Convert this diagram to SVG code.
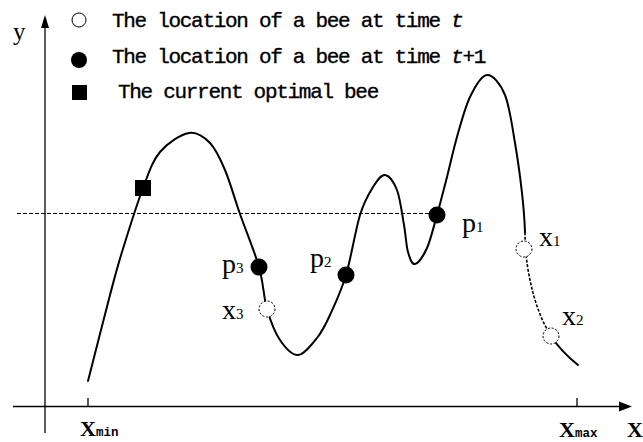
<svg xmlns="http://www.w3.org/2000/svg" width="643" height="442" viewBox="0 0 643 442">
<style>
.ax{stroke:#000;stroke-width:1.3;fill:none}
.crv{stroke:#000;stroke-width:2;fill:none;stroke-linecap:round}
.dcrv{stroke:#000;stroke-width:1.6;fill:none;stroke-dasharray:3 1.6}
.ref{stroke:#000;stroke-width:1;fill:none;stroke-dasharray:4 2}
.open{fill:#fff;stroke:#000;stroke-width:1;stroke-dasharray:2.2 1.6}
.fill{fill:#000}
.leg{font-family:"Liberation Mono",monospace;font-size:21px;letter-spacing:-1.3px;fill:#000;stroke:#000;stroke-width:0.35px}
.lbl{font-family:"Liberation Serif",serif;font-size:28px;fill:#000}
.sub{font-size:15px}
.axl{font-family:"Liberation Serif",serif;font-size:22px;font-weight:bold;fill:#000}
.axs{font-family:"Liberation Mono",monospace;font-size:12.5px;font-weight:bold}
</style>
<g id="axes">
<line class="ax" x1="45" y1="433" x2="45" y2="26"/>
<polygon points="45,15 41,28 49,28" fill="#000"/>
<line class="ax" x1="13" y1="406.5" x2="621" y2="406.5"/>
<polygon points="632,406.5 619,401.5 619,411.5" fill="#000"/>
<line class="ax" x1="88" y1="398" x2="88" y2="406.5"/>
<line class="ax" x1="577" y1="398" x2="577" y2="406.5"/>
<text x="13" y="40" style="font-family:'Liberation Serif',serif;font-size:25px;fill:#000">y</text>
<text class="axl" x="80" y="436">X<tspan class="axs">min</tspan></text>
<text class="axl" x="559" y="437">X<tspan class="axs">max</tspan></text>
<text class="axl" x="627" y="437">X</text>
</g>
<g id="legend">
<circle cx="79" cy="20" r="7" fill="#fff" stroke="#000" stroke-width="1"/>
<text class="leg" x="112" y="27">The location of a bee at time <tspan font-style="italic">t</tspan></text>
<circle cx="79" cy="60" r="8" class="fill"/>
<text class="leg" x="112" y="63">The location of a bee at time <tspan font-style="italic">t</tspan>+1</text>
<rect x="72" y="85" width="15" height="15" class="fill"/>
<text class="leg" x="118" y="98">The current optimal bee</text>
</g>
<g id="connectors">
<line class="ref" x1="17" y1="213.5" x2="437" y2="213.5"/>
<path class="crv" d="M88,381 C91.67,366.67 104.33,316.5 110,295 C115.67,273.5 116.5,269.83 122,252 C127.5,234.17 136.67,204.67 143,188 C149.33,171.33 152.33,161.17 160,152 C167.67,142.83 180.67,134.5 189,133 C197.33,131.5 204,136.83 210,143 C216,149.17 220,158.17 225,170 C230,181.83 234.33,197.83 240,214 C245.67,230.17 254.5,251.17 259,267 C263.5,282.83 263.5,296.83 267,309 C270.5,321.17 274.83,332.33 280,340 C285.17,347.67 291.83,355.33 298,355 C304.17,354.67 311.67,344.67 317,338 C322.33,331.33 325.17,325.5 330,315 C334.83,304.5 341,291.67 346,275 C351,258.33 355.5,229.67 360,215 C364.5,200.33 368.83,193.67 373,187 C377.17,180.33 381,174.5 385,175 C389,175.5 393.83,181.67 397,190 C400.17,198.33 402.17,214.67 404,225 C405.83,235.33 406.17,245.5 408,252 C409.83,258.5 411.83,264.67 415,264 C418.17,263.33 423.33,256.17 427,248 C430.67,239.83 433.67,226.83 437,215 C440.33,203.17 443.67,190 447,177 C450.33,164 453.17,150.33 457,137 C460.83,123.67 465,107.33 470,97 C475,86.67 481.17,75.33 487,75 C492.83,74.67 500.33,83.67 505,95 C509.67,106.33 512.17,126.67 515,143 C517.83,159.33 520.33,178.17 522,193 C523.67,207.83 524.67,222.67 525,232"/>
<path class="dcrv" d="M525,232 C525,255 528,272 532,289 C536,305 542,322 551,336"/>
<path class="crv" d="M551,336 C558,347 568,357 578,365"/>
</g>
<g id="best">
<rect x="135" y="180" width="16" height="16" class="fill"/>
</g>
<g id="p1"><circle cx="437" cy="215" r="8.5" class="fill"/><text class="lbl" x="462" y="232">p<tspan class="sub">1</tspan></text></g>
<g id="p2"><circle cx="346" cy="275" r="8.5" class="fill"/><text class="lbl" x="310" y="267">p<tspan class="sub">2</tspan></text></g>
<g id="p3"><circle cx="259" cy="267" r="8.5" class="fill"/><text class="lbl" x="222" y="273">p<tspan class="sub">3</tspan></text></g>
<g id="x1"><circle cx="524" cy="249" r="8" class="open"/><text class="lbl" x="539" y="246">x<tspan class="sub">1</tspan></text></g>
<g id="x2"><circle cx="551" cy="336" r="8" class="open"/><text class="lbl" x="562" y="325">x<tspan class="sub">2</tspan></text></g>
<g id="x3"><circle cx="267" cy="309" r="8" class="open"/><text class="lbl" x="222" y="319">x<tspan class="sub">3</tspan></text></g>
</svg>
